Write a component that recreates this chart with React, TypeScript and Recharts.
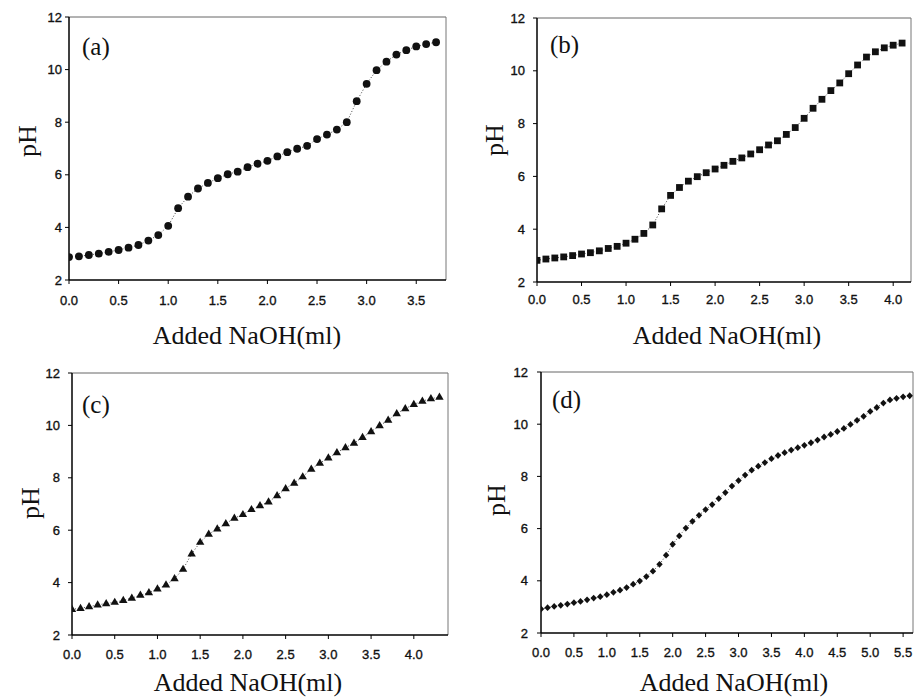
import { ScatterChart, Scatter, XAxis, YAxis, ReferenceLine, Label } from 'recharts'

// added NaOH volume (ml), shared by all four titrations
const volume = [
  0.0, 0.1, 0.2, 0.3, 0.4, 0.5, 0.6, 0.7, 0.8, 0.9,
  1.0, 1.1, 1.2, 1.3, 1.4, 1.5, 1.6, 1.7, 1.8, 1.9,
  2.0, 2.1, 2.2, 2.3, 2.4, 2.5, 2.6, 2.7, 2.8, 2.9,
  3.0, 3.1, 3.2, 3.3, 3.4, 3.5, 3.6, 3.7, 3.8, 3.9,
  4.0, 4.1, 4.2, 4.3, 4.4, 4.5, 4.6, 4.7, 4.8, 4.9,
  5.0, 5.1, 5.2, 5.3, 5.4, 5.5, 5.6,
]

const phA = [
  2.87, 2.9, 2.95, 3.0, 3.07, 3.14, 3.23, 3.33, 3.5, 3.71,
  4.06, 4.73, 5.17, 5.48, 5.69, 5.87, 6.02, 6.12, 6.29, 6.42,
  6.53, 6.7, 6.86, 6.99, 7.1, 7.36, 7.53, 7.72, 8.0, 8.8,
  9.46, 9.98, 10.3, 10.57, 10.74, 10.88, 10.97, 11.04,
]

const phB = [
  2.82, 2.87, 2.91, 2.95, 3.0, 3.06, 3.11, 3.18, 3.27, 3.35,
  3.47, 3.62, 3.84, 4.16, 4.77, 5.28, 5.58, 5.82, 5.99, 6.14,
  6.28, 6.42, 6.57, 6.7, 6.85, 7.01, 7.19, 7.35, 7.59, 7.85,
  8.2, 8.58, 8.92, 9.25, 9.54, 9.89, 10.22, 10.52, 10.72, 10.87,
  10.97, 11.05,
]

const phC = [
  2.98, 3.02, 3.08, 3.15, 3.2, 3.25, 3.32, 3.41, 3.52, 3.62,
  3.76, 3.91, 4.15, 4.51, 5.1, 5.54, 5.85, 6.05, 6.25, 6.46,
  6.6, 6.79, 6.94, 7.08, 7.32, 7.59, 7.8, 8.04, 8.33, 8.56,
  8.76, 8.96, 9.15, 9.32, 9.54, 9.76, 9.99, 10.2, 10.45, 10.64,
  10.8, 10.93, 11.02, 11.08,
]

const phD = [
  2.92, 2.97, 3.02, 3.06, 3.11, 3.16, 3.21, 3.27, 3.34, 3.39,
  3.47, 3.56, 3.64, 3.74, 3.87, 3.99, 4.16, 4.37, 4.63, 4.98,
  5.4, 5.72, 6.02, 6.28, 6.51, 6.73, 6.92, 7.15, 7.38, 7.63,
  7.84, 8.05, 8.24, 8.39, 8.53, 8.68, 8.8, 8.91, 9.01, 9.1,
  9.19, 9.29, 9.39, 9.51, 9.61, 9.72, 9.84, 9.99, 10.15, 10.3,
  10.49, 10.64, 10.81, 10.93, 10.99, 11.05, 11.09,
]

const phTicks = [2, 4, 6, 8, 10, 12]
const ticksA = [0, 0.5, 1.0, 1.5, 2.0, 2.5, 3.0, 3.5]
const ticksB = [0, 0.5, 1.0, 1.5, 2.0, 2.5, 3.0, 3.5, 4.0]
const ticksC = [0, 0.5, 1.0, 1.5, 2.0, 2.5, 3.0, 3.5, 4.0]
const ticksD = [0, 0.5, 1.0, 1.5, 2.0, 2.5, 3.0, 3.5, 4.0, 4.5, 5.0, 5.5]

const xTitle = 'Added NaOH(ml)'
const yTitle = 'pH'

const serif = '"Liberation Serif", "Times New Roman", serif'
const sans = '"Liberation Sans", Arial, sans-serif'

// layout of each panel, in pixels of the 915x697 page
const panels = [
  {
    tag: '(a)', ph: phA, xMax: 3.8, xTicks: ticksA, marker: 'circle',
    left: 0, top: 0, width: 460, height: 350, mt: 17, mr: 14, yw: 69, xh: 70,
    xtm: 12, ytm: 3, titleX: 247, titleY: 344, phX: 27, phY: 141, tagX: 82, tagY: 55,
  },
  {
    tag: '(b)', ph: phB, xMax: 4.2, xTicks: ticksB, marker: 'square',
    left: 455, top: 0, width: 460, height: 350, mt: 18, mr: 4, yw: 82, xh: 68,
    xtm: 9, ytm: 8, titleX: 272, titleY: 344, phX: 39, phY: 140, tagX: 95, tagY: 53,
  },
  {
    tag: '(c)', ph: phC, xMax: 4.4, xTicks: ticksC, marker: 'triangle',
    left: 0, top: 350, width: 460, height: 347, mt: 23, mr: 12, yw: 72, xh: 62,
    xtm: 11, ytm: 8, titleX: 248, titleY: 341, phX: 30, phY: 153, tagX: 82, tagY: 63,
  },
  {
    tag: '(d)', ph: phD, xMax: 5.65, xTicks: ticksD, marker: 'diamond',
    left: 455, top: 350, width: 460, height: 347, mt: 22, mr: 2, yw: 86, xh: 64,
    xtm: 11, ytm: 9, titleX: 279, titleY: 341, phX: 41, phY: 150, tagX: 97, tagY: 58,
  },
]

function Marker({ cx, cy, kind }: any) {
  if (cx == null || cy == null) return null
  if (kind === 'square') {
    return <rect x={cx - 3.4} y={cy - 3.4} width={6.8} height={6.8} fill="#111" />
  }
  if (kind === 'triangle') {
    return (
      <polygon
        points={`${cx},${cy - 4.6} ${cx - 4.2},${cy + 2.6} ${cx + 4.2},${cy + 2.6}`}
        fill="#111"
      />
    )
  }
  if (kind === 'diamond') {
    return (
      <polygon
        points={`${cx},${cy - 3.4} ${cx + 3.2},${cy} ${cx},${cy + 3.4} ${cx - 3.2},${cy}`}
        fill="#111"
      />
    )
  }
  return <circle cx={cx} cy={cy} r={3.9} fill="#111" />
}

function Panel({ p }: { p: any }) {
  const data = p.ph.map((ph: number, i: number) => ({ x: volume[i], y: ph }))
  // scanned labels look a little heavy, so a thin outline thickens them
  const tickStyle = { fill: '#111', stroke: '#111', strokeWidth: 0.35, fontSize: 13, fontFamily: sans }

  return (
    <div style={{ position: 'absolute', left: p.left, top: p.top }}>
      <ScatterChart
        width={p.width}
        height={p.height}
        margin={{ top: p.mt, right: p.mr, left: 0, bottom: 0 }}
      >
        <XAxis
          type="number"
          dataKey="x"
          domain={[0, p.xMax]}
          ticks={p.xTicks}
          interval={0}
          allowDataOverflow
          height={p.xh}
          tickSize={4}
          tickMargin={p.xtm}
          tick={tickStyle}
          tickFormatter={(v: number) => v.toFixed(1)}
          axisLine={{ stroke: '#000', strokeWidth: 1.5 }}
          tickLine={{ stroke: '#000' }}
        >
          <Label
            content={() => (
              <text
                x={p.titleX}
                y={p.titleY}
                textAnchor="middle"
                fontFamily={serif}
                fontSize={26}
                fill="#111"
              >
                {xTitle}
              </text>
            )}
          />
        </XAxis>
        <YAxis
          type="number"
          dataKey="y"
          domain={[2, 12]}
          ticks={phTicks}
          interval={0}
          width={p.yw}
          tickSize={4}
          tickMargin={p.ytm}
          tick={tickStyle}
          axisLine={{ stroke: '#000', strokeWidth: 1.5 }}
          tickLine={{ stroke: '#000' }}
        >
          <Label
            content={() => (
              <text
                x={p.phX}
                y={p.phY}
                dy={9}
                textAnchor="middle"
                transform={`rotate(-90, ${p.phX}, ${p.phY})`}
                fontFamily={serif}
                fontSize={26}
                fill="#111"
              >
                {yTitle}
              </text>
            )}
          />
        </YAxis>
        <ReferenceLine y={12} stroke="#666" strokeWidth={1} />
        <ReferenceLine x={p.xMax} stroke="#777" strokeWidth={1} />
        <Scatter
          data={data}
          line={{ stroke: '#444', strokeWidth: 1, strokeDasharray: '1 2' }}
          lineType="joint"
          shape={(props: any) => <Marker {...props} kind={p.marker} />}
          isAnimationActive={false}
        />
      </ScatterChart>
      <span
        style={{
          position: 'absolute',
          left: p.tagX,
          top: p.tagY - 20,
          fontFamily: serif,
          fontSize: 25,
          lineHeight: '24px',
          color: '#111',
        }}
      >
        {p.tag}
      </span>
    </div>
  )
}

export default function App() {
  return (
    <div
      style={{
        position: 'absolute',
        left: 0,
        top: 0,
        width: 915,
        height: 697,
        background: '#fff',
        overflow: 'hidden',
      }}
    >
      {panels.map((p) => (
        <Panel key={p.tag} p={p} />
      ))}
    </div>
  )
}
